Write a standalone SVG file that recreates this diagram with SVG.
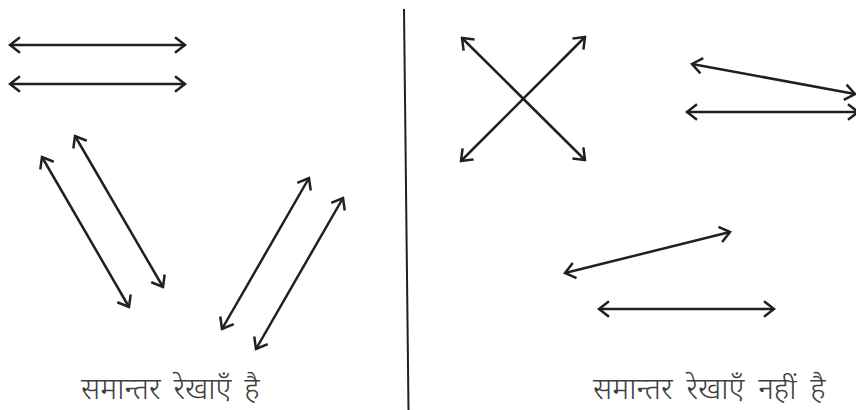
<svg xmlns="http://www.w3.org/2000/svg" width="856" height="410" viewBox="0 0 856 410">
<style>
.ln{stroke:#231f20;stroke-width:2.5;fill:none;marker-start:url(#ah);marker-end:url(#ah)}
.lbl{font-family:"Noto Sans","DejaVu Sans",sans-serif;font-size:30px;fill:#404040;font-weight:300}
</style>
<defs>
<marker id="ah" viewBox="-12 -9 14 18" markerWidth="14" markerHeight="18" refX="0" refY="0" orient="auto-start-reverse" markerUnits="userSpaceOnUse">
<path d="M-9,-7 L0,0 L-9,7" fill="none" stroke="#231f20" stroke-width="2.5" stroke-linecap="square"/>
</marker>
</defs>
<rect width="856" height="410" fill="#fff"/>
<g id="connectors">
<line class="ln" x1="10" y1="45" x2="185" y2="45"/>
<line class="ln" x1="10" y1="84" x2="185" y2="84"/>
<line class="ln" x1="42" y1="157" x2="129" y2="307"/>
<line class="ln" x1="75" y1="136" x2="163" y2="287"/>
<line class="ln" x1="309" y1="178" x2="222" y2="329"/>
<line class="ln" x1="343" y1="198" x2="256" y2="349"/>
<line class="ln" x1="462" y1="38" x2="585" y2="160"/>
<line class="ln" x1="585" y1="37" x2="461" y2="161"/>
<line class="ln" x1="692" y1="64" x2="855" y2="94"/>
<line class="ln" x1="687" y1="112" x2="858" y2="112"/>
<line class="ln" x1="565" y1="273" x2="730" y2="232"/>
<line class="ln" x1="599" y1="309" x2="774" y2="309"/>
</g>
<g id="divider">
<line x1="404" y1="9" x2="408.5" y2="410" stroke="#231f20" stroke-width="2"/>
</g>
<g id="label-left">
<text class="lbl" x="81" y="399" word-spacing="5">समान्तर रेखाएँ है</text>
</g>
<g id="label-right">
<text class="lbl" x="593" y="399" word-spacing="6">समान्तर रेखाएँ नहीं है</text>
</g>
</svg>
